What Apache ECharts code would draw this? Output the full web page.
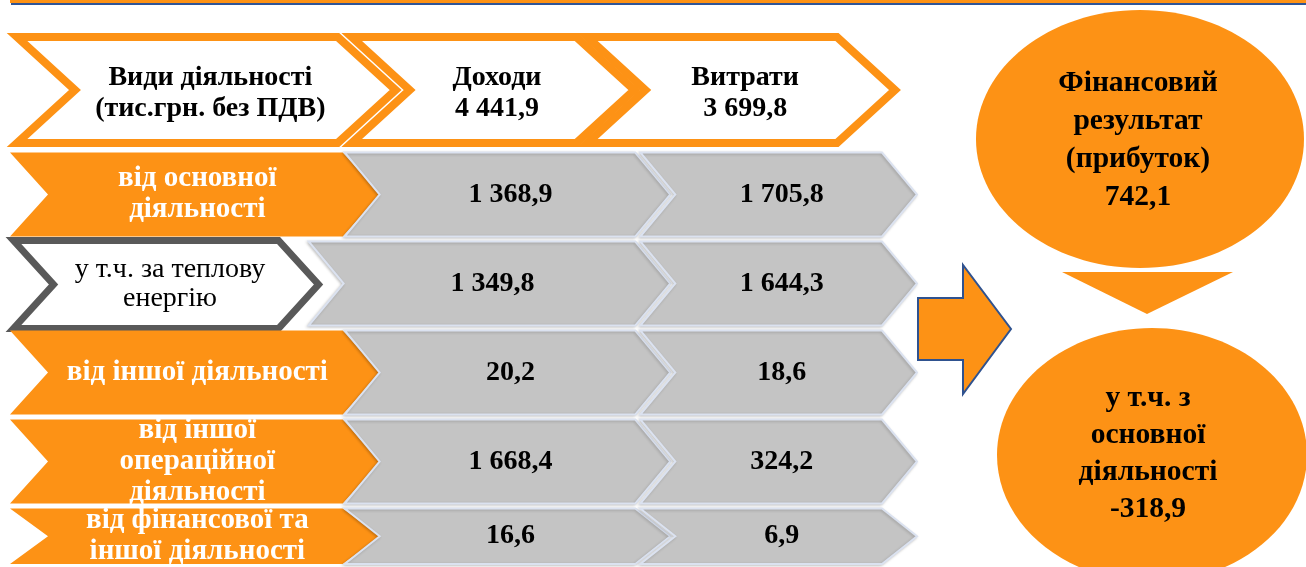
<!DOCTYPE html>
<html>
<head>
<meta charset="utf-8">
<title>Фінансовий результат</title>
<script src="https://cdn.jsdelivr.net/npm/echarts@6.0.0/dist/echarts.min.js"></script>
<style>
html, body { margin: 0; padding: 0; background: #fff; }
#main { width: 1306px; height: 567px; }
</style>
</head>
<body>
<div id="main"></div>
<script>
// дані
var columns = ['Види діяльності\n(тис.грн. без ПДВ)', 'Доходи', 'Витрати'];
var totals = [4441.9, 3699.8];
var rows = [
	'від основної\nдіяльності',
	'у т.ч. за теплову\nенергію',
	'від іншої діяльності',
	'від іншої\nопераційної\nдіяльності',
	'від фінансової та\nіншої діяльності'
];
var income = [1368.9, 1349.8, 20.2, 1668.4, 16.6];
var expense = [1705.8, 1644.3, 18.6, 324.2, 6.9];
var resultTitle = 'Фінансовий\nрезультат\n(прибуток)';
var resultValue = 742.1;
var basicTitle = 'у т.ч. з\nосновної\nдіяльності';
var basicValue = -318.9;

// стилі
var ORANGE = '#fd9215',
	GRAY = '#c4c4c4',
	FONT = '"Liberation Serif", "Times New Roman", serif';

// зсуви країв шевронів відносно смуги категорії
var headPad = [ [ 3, 87 ], [ 35, 23 ], [ -32, -19 ] ];
var bodyPad = [ [ 0, 68 ], [ 32, 55 ], [ 25, -1 ] ];

function fmt(v) {
	var s = Math.abs(v).toFixed(1).split('.');
	var i = s[0].replace(/\B(?=(\d{3})+(?!\d))/g, ' ');
	return (v < 0 ? '-' : '') + i + ',' + s[1];
}

function chevron(x0, x1, top, bot, d) {
	var mid = (top + bot) / 2;
	return [ [ x0, top ], [ x1 - d, top ], [ x1, mid ], [ x1 - d, bot ], [ x0, bot ], [ x0 + d, mid ] ];
}

function textEl(x, y, txt, color, size, weight, lh) {
	return {
		type : 'text',
		style : {
			x : x,
			y : y,
			text : txt,
			fill : color,
			fontSize : size,
			fontWeight : weight,
			fontFamily : FONT,
			align : 'center',
			verticalAlign : 'middle',
			lineHeight : lh
		}
	};
}

// шапка
function renderHead(params, api) {
	var c = api.value(0);
	var p = api.coord([ c, 0 ]);
	var s = api.size([ 1, 1 ]);
	var x0 = p[0] - s[0] / 2 + headPad[c][0] + 4,
		x1 = p[0] + s[0] / 2 + headPad[c][1] - 4,
		top = p[1] - s[1] / 2 + 4,
		bot = p[1] + s[1] / 2 - 4;
	var txt = c === 0 ? columns[0] : columns[c] + '\n' + fmt(totals[c - 1]);
	return {
		type : 'group',
		children : [ {
			type : 'polygon',
			shape : { points : chevron(x0, x1, top, bot, 58) },
			style : { fill : '#fff', stroke : ORANGE, lineWidth : 8 }
		}, textEl((x0 + x1) / 2 + 4, (top + bot) / 2 + 3, txt, '#000', 28, 'bold', 31) ]
	};
}

// рядки
function renderBody(params, api) {
	var c = api.value(0), r = api.value(1);
	var p = api.coord([ c, r ]);
	var s = api.size([ 1, 1 ]);
	var x0 = p[0] - s[0] / 2 + bodyPad[c][0],
		x1 = p[0] + s[0] / 2 + bodyPad[c][1],
		top = p[1] - s[1] / 2 + 2,
		bot = p[1] + s[1] / 2 - 3;
	// останній рядок обрізано низом полотна
	bot = Math.min(bot, api.getHeight() - 3);
	var shape, txt;
	if (c === 0) {
		if (r === 1) {
			// у т.ч. - контурний шеврон
			x0 += 3.5;
			x1 = x0 + 305;
			top -= 1;
			bot += 3;
			shape = {
				type : 'polygon',
				shape : { points : chevron(x0, x1, top, bot, 40) },
				style : { fill : '#fff', stroke : '#595959', lineWidth : 7 }
			};
			txt = textEl((x0 + x1) / 2 + 4, (top + bot) / 2, rows[r], '#000', 28, 'normal', 29);
		} else {
			shape = {
				type : 'polygon',
				shape : { points : chevron(x0, x1, top, bot, 38) },
				style : { fill : ORANGE }
			};
			txt = textEl((x0 + x1) / 2 + 2, (top + bot) / 2, rows[r], '#fff', 29, 'bold', 31);
		}
	} else {
		if (c === 1 && r === 1) {
			x0 -= 36;
		}
		shape = {
			type : 'polygon',
			shape : { points : chevron(x0, x1, top, bot, 35) },
			style : {
				fill : GRAY,
				stroke : '#dbe2f0',
				lineWidth : 2,
				shadowBlur : 3,
				shadowOffsetX : -1,
				shadowOffsetY : 1,
				shadowColor : 'rgba(0,0,0,0.2)'
			}
		};
		var v = c === 1 ? income[r] : expense[r];
		txt = textEl((x0 + x1) / 2 + 3, (top + bot) / 2, fmt(v), '#000', 28, 'bold', 30);
	}
	return { type : 'group', children : [ shape, txt ] };
}

var headData = [ [ 0, 0 ], [ 1, 0 ], [ 2, 0 ] ];
var bodyData = [];
for (var r = 0; r < rows.length; r++) {
	bodyData.push([ 0, r ], [ 1, r ], [ 2, r ]);
}

var chart = echarts.init(document.getElementById('main'));
chart.setOption({
	animation : false,
	grid : [ {
		left : 10,
		top : 33,
		width : 908,
		height : 114,
		outerBoundsMode : 'none'
	}, {
		left : 10,
		top : 150.5,
		width : 908,
		height : 445,
		outerBoundsMode : 'none'
	} ],
	xAxis : [ {
		type : 'category',
		gridIndex : 0,
		data : columns,
		show : false
	}, {
		type : 'category',
		gridIndex : 1,
		data : columns,
		show : false
	} ],
	yAxis : [ {
		type : 'category',
		gridIndex : 0,
		data : [ 'head' ],
		show : false
	}, {
		type : 'category',
		gridIndex : 1,
		data : rows,
		inverse : true,
		show : false
	} ],
	series : [ {
		type : 'custom',
		xAxisIndex : 0,
		yAxisIndex : 0,
		renderItem : renderHead,
		data : headData
	}, {
		type : 'custom',
		xAxisIndex : 1,
		yAxisIndex : 1,
		renderItem : renderBody,
		data : bodyData
	} ],
	graphic : [ {
		type : 'rect',
		shape : { x : 10, y : 0, width : 1296, height : 3 },
		style : { fill : ORANGE }
	}, {
		type : 'rect',
		shape : { x : 11, y : 3, width : 1295, height : 2 },
		style : { fill : '#2f5597' }
	}, {
		type : 'ellipse',
		shape : { cx : 1140, cy : 139, rx : 164, ry : 129 },
		style : { fill : ORANGE }
	}, {
		type : 'text',
		x : 1138,
		y : 140,
		style : {
			text : resultTitle + '\n' + fmt(resultValue),
			fill : '#000',
			fontSize : 29.5,
			fontWeight : 'bold',
			fontFamily : FONT,
			align : 'center',
			verticalAlign : 'middle',
			lineHeight : 38
		}
	}, {
		type : 'polygon',
		shape : { points : [ [ 1062, 272 ], [ 1233, 272 ], [ 1147, 314 ] ] },
		style : { fill : ORANGE }
	}, {
		type : 'polygon',
		shape : { points : [ [ 918, 298 ], [ 963, 298 ], [ 963, 265 ], [ 1011, 329 ], [ 963, 394 ], [ 963, 360 ], [ 918, 360 ] ] },
		style : { fill : ORANGE, stroke : '#2f528f', lineWidth : 2 }
	}, {
		type : 'ellipse',
		shape : { cx : 1152, cy : 455, rx : 155, ry : 127 },
		style : { fill : ORANGE }
	}, {
		type : 'text',
		x : 1148,
		y : 454,
		style : {
			text : basicTitle + '\n' + fmt(basicValue),
			fill : '#000',
			fontSize : 29.5,
			fontWeight : 'bold',
			fontFamily : FONT,
			align : 'center',
			verticalAlign : 'middle',
			lineHeight : 37
		}
	} ]
});
</script>
</body>
</html>
